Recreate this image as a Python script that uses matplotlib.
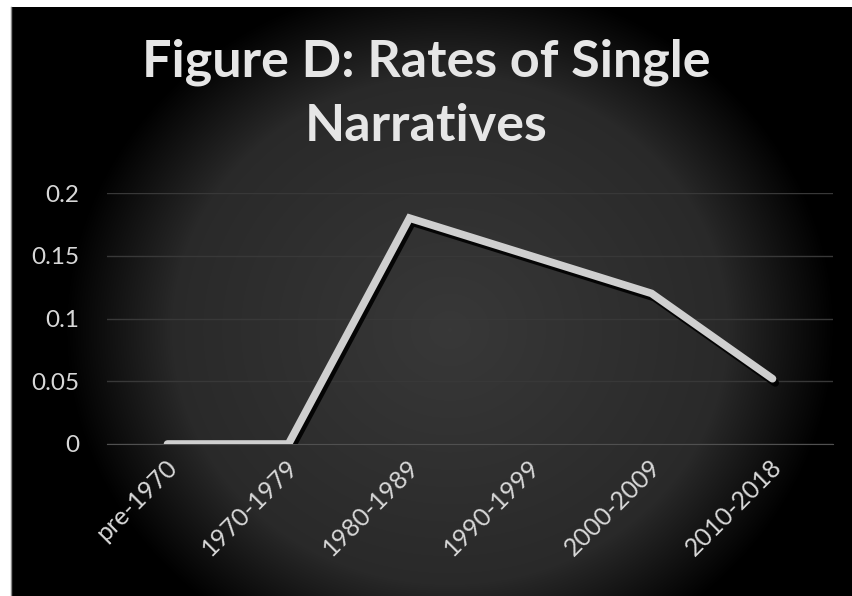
import numpy as np
import matplotlib
matplotlib.use("Agg")
import matplotlib.pyplot as plt
import matplotlib.patheffects as pe
from matplotlib.transforms import ScaledTranslation

categories = ["pre-1970", "1970-1979", "1980-1989", "1990-1999", "2000-2009", "2010-2018"]
rates = [0.0, 0.0, 0.18, 0.15, 0.12, 0.052]
yticks = [0, 0.05, 0.1, 0.15, 0.2]
ytick_labels = ["0", "0.05", "0.1", "0.15", "0.2"]
title = "Figure D: Rates of Single\nNarratives"

W, H = 853, 596
fig = plt.figure(figsize=(W / 100, H / 100), dpi=100, facecolor="white")

# dark radial background (pixel coords of the figure)
bx0, by0 = 11, 7
bg = fig.add_axes([bx0 / W, 0, (W - bx0) / W, (H - by0) / H])
xs = np.arange(bx0, W) + 0.5
ys = np.arange(by0, H) + 0.5
gx, gy = np.meshgrid(xs, ys)
r = np.sqrt(((gx - 450) / 360) ** 2 + ((gy - 330) / 330) ** 2)
shade = 0.22 - 0.06 * np.clip(r / 0.8, 0, 1)
shade = shade * np.clip((1.07 - r) / 0.3, 0, 1)
bg.imshow(np.dstack([shade] * 3), aspect="auto", interpolation="bilinear")
bg.axis("off")
fig.add_artist(plt.Line2D([bx0 / W, bx0 / W], [0, 1 - by0 / H], color="#888888", lw=1))

ax = fig.add_axes([107 / W, 152 / H, 726 / W, 251 / H])
ax.patch.set_alpha(0)
x = np.arange(len(categories))
ax.plot(x, rates, color="#cfcfcf", lw=5.5, solid_joinstyle="miter", solid_capstyle="round",
        path_effects=[pe.SimpleLineShadow(offset=(2, -3), shadow_color="black", alpha=0.9),
                      pe.Normal()], zorder=3)

ax.set_xlim(-0.5, len(categories) - 0.5)
ax.set_ylim(0, 0.2)
ax.set_yticks(yticks)
ax.set_yticklabels(ytick_labels)
ax.set_xticks(x)
ax.set_xticklabels(categories)
ax.grid(axis="y", color="#383838", lw=1)
ax.set_axisbelow(True)
for s in ["top", "right", "left"]:
    ax.spines[s].set_visible(False)
ax.spines["bottom"].set_color("#505050")
ax.tick_params(length=0)
ax.tick_params(axis="y", pad=20, labelsize=17.5, labelcolor="#d8d8d8")
ax.tick_params(axis="x", pad=14, labelsize=18, labelcolor="#d8d8d8")
for lab in ax.get_yticklabels():
    lab.set_family("Lato")
offset = ScaledTranslation(6 / 100, 0, fig.dpi_scale_trans)
for lab in ax.get_xticklabels():
    lab.set_family("Lato")
    lab.set_rotation(45)
    lab.set_ha("right")
    lab.set_va("center")
    lab.set_rotation_mode("anchor")
    lab.set_transform(lab.get_transform() + offset)

fig.text(0.5, 1 - 94 / H, title, ha="center", va="center", fontsize=37.5, fontweight="bold",
         family="Lato", color="#e6e6e6", linespacing=1.45)

fig.savefig("out.png", dpi=100, facecolor="white")
